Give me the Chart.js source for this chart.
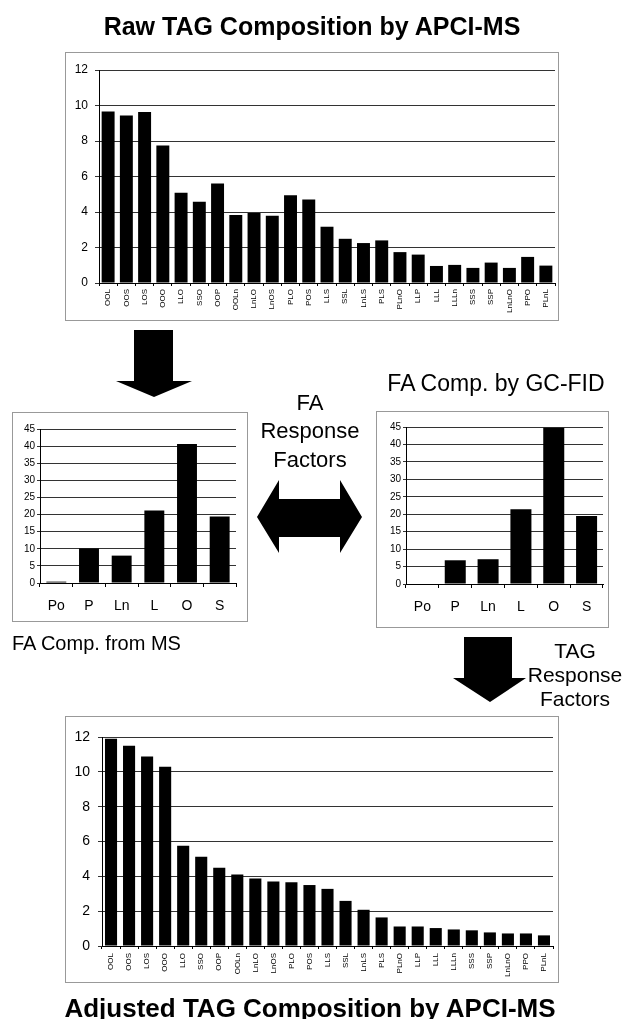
<!DOCTYPE html>
<html><head><meta charset="utf-8">
<script src="https://cdn.jsdelivr.net/npm/chart.js@4.4.1/dist/chart.umd.min.js"></script>
<style>
html,body{margin:0;padding:0;background:#fff;width:634px;height:1019px;overflow:hidden;}
.box{position:absolute;border:1px solid #999;box-sizing:border-box;background:#fff;}
.box canvas{display:block;}
#ov{position:absolute;left:0;top:0;pointer-events:none;}
</style></head><body>
<div class="box" style="left:65px;top:52px;width:494px;height:269px"><canvas id="c1" width="492" height="267"></canvas></div>
<div class="box" style="left:12px;top:412px;width:236px;height:210px"><canvas id="c2" width="234" height="208"></canvas></div>
<div class="box" style="left:376px;top:411px;width:233px;height:217px"><canvas id="c3" width="231" height="215"></canvas></div>
<div class="box" style="left:65px;top:716px;width:494px;height:267px"><canvas id="c4" width="492" height="265"></canvas></div>
<svg id="ov" width="634" height="1019" xmlns="http://www.w3.org/2000/svg" font-family="'Liberation Sans', Arial, sans-serif">
  <text x="312" y="35" font-size="25" font-weight="bold" text-anchor="middle">Raw TAG Composition by APCI-MS</text>
  <text x="310" y="1017" font-size="26" font-weight="bold" text-anchor="middle">Adjusted TAG Composition by APCI-MS</text>
  <text x="496" y="391" font-size="23" text-anchor="middle">FA Comp. by GC-FID</text>
  <text x="12" y="650" font-size="20">FA Comp. from MS</text>
  <text x="310" y="410" font-size="22" text-anchor="middle">FA</text>
  <text x="310" y="438" font-size="22" text-anchor="middle">Response</text>
  <text x="310" y="467" font-size="22" text-anchor="middle">Factors</text>
  <text x="575" y="658" font-size="21" text-anchor="middle">TAG</text>
  <text x="575" y="682" font-size="21" text-anchor="middle">Response</text>
  <text x="575" y="706" font-size="21" text-anchor="middle">Factors</text>
  <polygon fill="#000" points="134,330 173,330 173,381 192,381 154,397 116,381 134,381"/>
  <polygon fill="#000" points="257,517 279,480 279,499 340,499 340,480 362,517 340,553 340,537 279,537 279,553"/>
  <polygon fill="#000" points="464,637 512,637 512,678 526,678 490,702 453,678 464,678"/>
</svg>
<script>
const tagLabels = ['OOL','OOS','LOS','OOO','LLO','SSO','OOP','OOLn','LnLO','LnOS','PLO','POS','LLS','SSL','LnLS','PLS','PLnO','LLP','LLL','LLLn','SSS','SSP','LnLnO','PPO','PLnL'];
const rawTag = [9.66,9.43,9.64,7.74,5.09,4.58,5.60,3.83,3.94,3.79,4.94,4.70,3.17,2.49,2.25,2.40,1.74,1.60,0.96,1.02,0.85,1.15,0.85,1.47,0.98];
const adjTag = [11.9,11.5,10.88,10.29,5.75,5.12,4.5,4.1,3.87,3.7,3.66,3.5,3.28,2.59,2.08,1.64,1.12,1.12,1.03,0.95,0.9,0.78,0.72,0.72,0.61];
const faLabels = ['Po','P','Ln','L','O','S'];
const faMS = [0.4,10.1,8.0,21.2,40.6,19.4];
const faGC = [0,6.8,7.1,21.4,44.8,19.5];
const tagMax = 12, tagStep = 2;
const faMax = 45, faStep = 5;

const FONT = "'Liberation Sans', Arial, sans-serif";

function makeChart(id, labels, data, o) {
  return new Chart(document.getElementById(id), {
    type: 'bar',
    data: { labels: labels, datasets: [{ data: data, backgroundColor: '#000', borderWidth: 0,
      barPercentage: o.barPct, categoryPercentage: 1 }] },
    options: {
      responsive: false, animation: false,
      plugins: { legend: { display: false }, tooltip: { enabled: false } },
      layout: { padding: { left: 0, top: o.top, right: o.right, bottom: 0 } },
      scales: {
        x: {
          grid: { display: true, drawOnChartArea: false, drawTicks: true, tickLength: o.xTick, color: '#000', offset: true },
          border: { display: true, color: '#000', width: 1 },
          ticks: { color: '#000', font: { family: FONT, size: o.xFont }, autoSkip: false,
            minRotation: o.rot, maxRotation: o.rot, padding: o.xPad },
          afterFit: s => { s.height = o.bottom; s.paddingLeft = 0; s.paddingRight = 0; }
        },
        y: {
          min: 0, max: o.max,
          grid: { color: '#333', tickLength: o.yTick, drawTicks: true },
          border: { display: true, color: '#000', width: 1 },
          ticks: { stepSize: o.step, color: '#000', font: { family: FONT, size: o.yFont }, padding: o.yPad },
          afterFit: s => { s.width = o.left; }
        }
      }
    }
  });
}

makeChart('c1', tagLabels, rawTag, { barPct: 0.71, top: 17, right: 3, bottom: 37, left: 33,
  max: tagMax, step: tagStep, xFont: 8, yFont: 12, rot: 90, xPad: 3, xTick: 3, yTick: 4, yPad: 7 });
makeChart('c4', tagLabels, adjTag, { barPct: 0.67, top: 20, right: 5, bottom: 36, left: 36,
  max: tagMax, step: tagStep, xFont: 8, yFont: 14, rot: 90, xPad: 4, xTick: 3, yTick: 4, yPad: 8 });
makeChart('c2', faLabels, faMS, { barPct: 0.61, top: 16, right: 11, bottom: 38, left: 27,
  max: faMax, step: faStep, xFont: 14, yFont: 10, rot: 0, xPad: 11, xTick: 4, yTick: 3, yPad: 2 });
makeChart('c3', faLabels, faGC, { barPct: 0.64, top: 15, right: 5, bottom: 43, left: 29,
  max: faMax, step: faStep, xFont: 14, yFont: 10, rot: 0, xPad: 11, xTick: 4, yTick: 3, yPad: 2 });
</script>
</body></html>
